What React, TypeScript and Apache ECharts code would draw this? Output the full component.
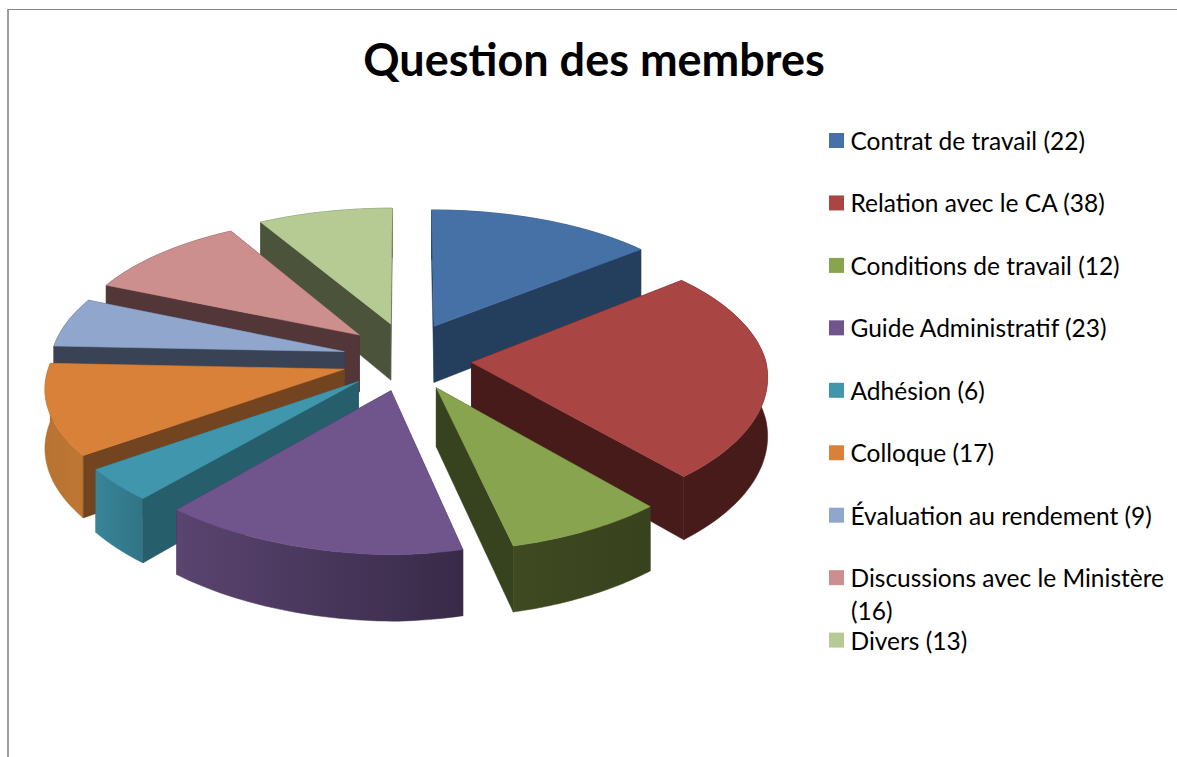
import React, { useEffect, useRef } from "react";
import * as echarts from "echarts";

const title = "Question des membres";
const categories = [
  "Contrat de travail",
  "Relation avec le CA",
  "Conditions de travail",
  "Guide Administratif",
  "Adhésion",
  "Colloque",
  "Évaluation au rendement",
  "Discussions avec le Ministère",
  "Divers",
];
const values = [22, 38, 12, 23, 6, 17, 9, 16, 13];
const topColors = ["#4571A7", "#A94543", "#88A44F", "#6F558C", "#3F96AD", "#D98039", "#90A6CD", "#CD8F8E", "#B6CA94"];
const wallColors = ["#243E5E", "#471B1A", "#37421E", "#3A2B4A", "#275E6C", "#72441F", "#3A4355", "#523638", "#4B533A"];
const arcFrom = ["#243E5E", "#471B1A", "#3F4A22", "#5A4470", "#398498", "#B87232", "#3A4355", "#523638", "#4B533A"];
const arcTo = ["#243E5E", "#471B1A", "#37421E", "#382A48", "#307486", "#BE7733", "#3A4355", "#523638", "#4B533A"];

const CX = 407, CY = 360, RX = 294, RY = 140, KX = 0.105, KY_BACK = 0.132, KY_FRONT = 0.105;
const EXPLODE = 0.22, BACK_LIFT = 1.25, DEPTH = 58, SHEAR = 7, TILT = 7;

const total = values.reduce((a, b) => a + b, 0);
const names = categories.map((c, i) => `${c} (${values[i]})`);

function project(u: number, v: number, drop: number): number[] {
  const sx = 1 / (1 - KX * v);
  const sy = 1 / (1 - (v < 0 ? KY_BACK : KY_FRONT) * v);
  const front = Math.max(0, v);
  return [
    CX + RX * u * sx - SHEAR * front,
    CY + RY * v * sy + drop * sy + TILT * Math.min(u, 0) * front,
  ];
}

function sliceShapes(index: number) {
  const before = values.slice(0, index).reduce((a, b) => a + b, 0);
  const start = (before / total) * Math.PI * 2;
  const end = ((before + values[index]) / total) * Math.PI * 2;
  const mid = (start + end) / 2;
  const ou = EXPLODE * Math.sin(mid);
  const rawOv = -EXPLODE * Math.cos(mid);
  const ov = rawOv < 0 ? rawOv * BACK_LIFT : rawOv;
  const disc: number[][] = [];
  const steps = 48;
  for (let i = 0; i <= steps; i++) {
    const a = start + ((end - start) * i) / steps;
    disc.push([ou + Math.sin(a), ov - Math.cos(a)]);
  }
  const apexTop = project(ou, ov, 0);
  const apexBot = project(ou, ov, DEPTH);
  const top = disc.map(([u, v]) => project(u, v, 0));
  const bot = disc.map(([u, v]) => project(u, v, DEPTH));
  return {
    top: [apexTop, ...top],
    startWall: [apexTop, top[0], bot[0], apexBot],
    endWall: [apexTop, top[steps], bot[steps], apexBot],
    arcWall: [...top, ...bot.slice().reverse()],
    startVisible: Math.sin(start) < 0,
    endVisible: Math.sin(end) > 0,
  };
}

function renderSlice(index: number) {
  return () => {
    const s = sliceShapes(index);
    const wallStyle = { fill: wallColors[index], stroke: wallColors[index], lineWidth: 0.5 };
    const arcFill = new echarts.graphic.LinearGradient(0, 0, 1, 0, [
      { offset: 0, color: arcFrom[index] },
      { offset: 1, color: arcTo[index] },
    ]);
    const wall = (points: number[][]) => ({ type: "polygon", shape: { points }, style: wallStyle });
    return {
      type: "group",
      children: [
        ...(s.startVisible ? [] : [wall(s.startWall)]),
        ...(s.endVisible ? [] : [wall(s.endWall)]),
        { type: "polygon", shape: { points: s.arcWall }, style: { fill: arcFill, stroke: arcFill, lineWidth: 0.5 } },
        ...(s.startVisible ? [wall(s.startWall)] : []),
        ...(s.endVisible ? [wall(s.endWall)] : []),
        { type: "polygon", shape: { points: s.top }, style: { fill: topColors[index], stroke: topColors[index], lineWidth: 0.5 } },
      ],
    };
  };
}

// back-to-front painting rank
function depthRank(i: number): number {
  const before = values.slice(0, i).reduce((a, b) => a + b, 0);
  const mid = ((before + values[i] / 2) / total) * Math.PI * 2;
  return -Math.cos(mid);
}

export default function App() {
  const ref = useRef<HTMLDivElement>(null);
  useEffect(() => {
    const chart = echarts.init(ref.current!, null, { renderer: "svg" });
    const order = values.map((_, i) => i).sort((a, b) => depthRank(a) - depthRank(b));
    chart.setOption({
      animation: false,
      backgroundColor: "#ffffff",
      title: {
        text: title,
        left: 589,
        top: 31,
        textAlign: "center",
        textStyle: { fontFamily: "Lato", fontWeight: "bold", fontSize: 45, color: "#000000" },
      },
      color: topColors,
      legend: {
        orient: "vertical",
        left: 829,
        top: 128,
        padding: 0,
        itemWidth: 15,
        itemHeight: 15,
        itemGap: 37.45,
        icon: "rect",
        selectedMode: false,
        data: names,
        formatter: (n: string) => (n === names[7] ? categories[7] : n),
        textStyle: { fontFamily: "Lato", fontSize: 24.5, color: "#000000", padding: [0, 0, 0, 1.5] },
      },
      series: order.map((i, rank) => ({
        type: "custom",
        name: names[i],
        coordinateSystem: "none",
        z: 2 + rank,
        silent: true,
        itemStyle: { color: topColors[i] },
        data: [[values[i]]],
        renderItem: renderSlice(i),
      })),
      graphic: [
        { type: "line", shape: { x1: 8, y1: 9.5, x2: 1177, y2: 9.5 }, style: { stroke: "#868686", lineWidth: 1 } },
        { type: "line", shape: { x1: 8, y1: 9, x2: 8, y2: 757 }, style: { stroke: "#868686", lineWidth: 1.6 } },
        {
          type: "text",
          x: 851,
          y: 598,
          style: { text: `(${values[7]})`, fontFamily: "Lato", fontSize: 24.5, fill: "#000000" },
        },
      ],
    });
    return () => chart.dispose();
  }, []);
  return <div ref={ref} style={{ position: "absolute", left: 0, top: 0, width: 1177, height: 757 }} />;
}
